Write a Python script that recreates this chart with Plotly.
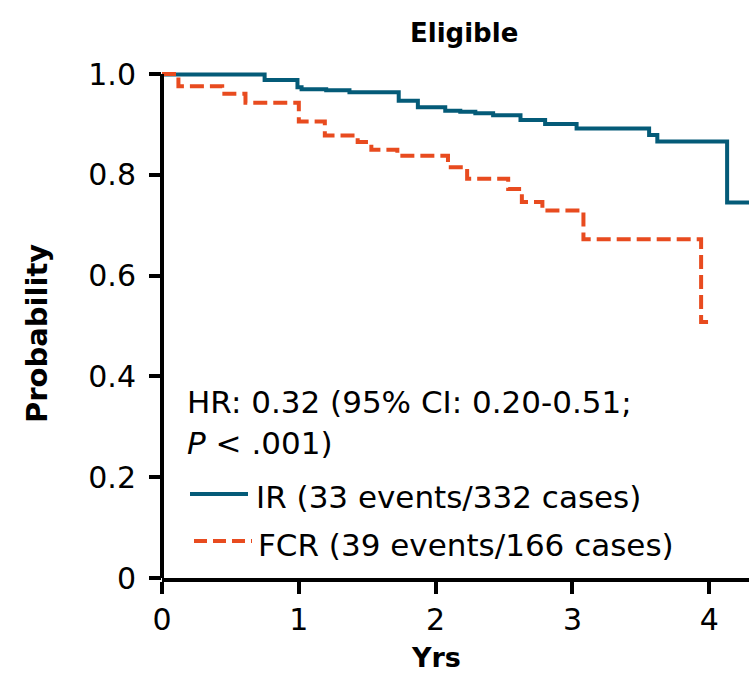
import plotly.graph_objects as go

# ---- data ----
ir_time = [0.0, 0.75, 0.99, 1.02, 1.20, 1.37, 1.73, 1.87, 2.07, 2.18, 2.29, 2.42, 2.62, 2.80, 3.03, 3.56, 3.62, 4.13, 4.29]
ir_surv = [0.999, 0.988, 0.974, 0.970, 0.968, 0.964, 0.947, 0.934, 0.927, 0.925, 0.922, 0.918, 0.909, 0.901, 0.892, 0.879, 0.866, 0.745, 0.745]

fcr_time = [0.0, 0.12, 0.44, 0.61, 1.00, 1.19, 1.43, 1.53, 1.72, 2.09, 2.23, 2.53, 2.63, 2.78, 3.08, 3.94, 4.01]
fcr_surv = [1.000, 0.976, 0.961, 0.943, 0.906, 0.878, 0.865, 0.850, 0.838, 0.815, 0.792, 0.772, 0.746, 0.729, 0.672, 0.508, 0.508]

x_ticks = [0, 1, 2, 3, 4]
y_ticks = [0, 0.2, 0.4, 0.6, 0.8, 1.0]
y_ticktext = ["0", "0.2", "0.4", "0.6", "0.8", "1.0"]

ir_label = "IR (33 events/332 cases)"
fcr_label = "FCR (39 events/166 cases)"
hr_line1 = "HR: 0.32 (95% CI: 0.20-0.51;"
hr_line2 = "<i>P</i> < .001)"

BLUE = "#045B78"
ORANGE = "#E84B1F"
FONT = "DejaVu Sans"
TXT = 31

W, H = 749, 675
ML, MR, MT, MB = 162, 0, 69, 97
PW = W - ML - MR
PH = H - MT - MB


def px(x):
    return (x - ML) / PW


def py(y):
    return (H - MB - y) / PH


fig = go.Figure()
fig.add_trace(go.Scatter(x=ir_time, y=ir_surv, mode="lines", line_shape="hv",
                         line=dict(color=BLUE, width=4), name=ir_label, showlegend=False))
fig.add_trace(go.Scatter(x=fcr_time, y=fcr_surv, mode="lines", line_shape="hv",
                         line=dict(color=ORANGE, width=4, dash="14px,6px"), name=fcr_label,
                         showlegend=False))

fig.update_layout(
    width=W, height=H,
    margin=dict(l=ML, r=MR, t=MT, b=MB, pad=0),
    plot_bgcolor="white", paper_bgcolor="white",
    font=dict(family=FONT, size=30, color="black"),
    xaxis=dict(range=[0, 4.29], tickvals=x_ticks, showgrid=False, zeroline=False,
               showline=True, linewidth=4, linecolor="black",
               ticks="outside", ticklen=12, tickwidth=4, tickcolor="black",
               tickfont=dict(family=FONT, size=30), ticklabelstandoff=0),
    yaxis=dict(range=[0, 1.01], tickvals=y_ticks, ticktext=y_ticktext, showgrid=False,
               zeroline=False, showline=False,
               ticks="outside", ticklen=12, tickwidth=4, tickcolor="black",
               tickfont=dict(family=FONT, size=30), ticklabelstandoff=7),
    showlegend=False,
)

# y axis line from 0 to 1.0
fig.add_shape(type="line", xref="paper", yref="y", x0=0, x1=0, y0=0, y1=1.0,
              line=dict(color="black", width=4))

# legend samples
fig.add_shape(type="line", xref="paper", yref="paper", x0=px(190), x1=px(248), y0=py(494), y1=py(494),
              line=dict(color=BLUE, width=4))
fig.add_shape(type="line", xref="paper", yref="paper", x0=px(194), x1=px(252), y0=py(541), y1=py(541),
              line=dict(color=ORANGE, width=4, dash="13px,6px"))

ann = []
ann.append(dict(text="<b>Eligible</b>", x=px(464), y=py(33), xref="paper", yref="paper",
                xanchor="center", yanchor="middle", showarrow=False,
                font=dict(family=FONT, size=26)))
ann.append(dict(text="<b>Probability</b>", x=px(37), y=py(334), xref="paper", yref="paper",
                xanchor="center", yanchor="middle", textangle=-90, showarrow=False,
                font=dict(family=FONT, size=29)))
ann.append(dict(text="<b>Yrs</b>", x=2, y=py(657), xref="x", yref="paper",
                xanchor="center", yanchor="middle", showarrow=False,
                font=dict(family=FONT, size=27)))
ann.append(dict(text=hr_line1, x=px(185), y=py(402), xref="paper", yref="paper",
                xanchor="left", yanchor="middle", showarrow=False, font=dict(family=FONT, size=TXT)))
ann.append(dict(text=hr_line2, x=px(185), y=py(443), xref="paper", yref="paper",
                xanchor="left", yanchor="middle", showarrow=False, font=dict(family=FONT, size=TXT)))
ann.append(dict(text=ir_label, x=px(254), y=py(497), xref="paper", yref="paper",
                xanchor="left", yanchor="middle", showarrow=False, font=dict(family=FONT, size=TXT)))
ann.append(dict(text=fcr_label, x=px(256), y=py(545), xref="paper", yref="paper",
                xanchor="left", yanchor="middle", showarrow=False, font=dict(family=FONT, size=TXT)))
fig.update_layout(annotations=ann)

fig.write_html("out.html", config={"displayModeBar": False},
               post_script="document.body.style.margin='0';document.body.style.padding='0';")
